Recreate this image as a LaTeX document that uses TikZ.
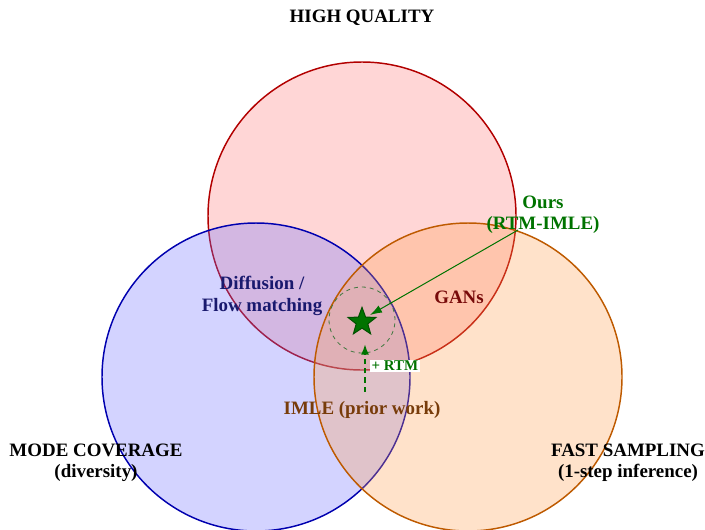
\documentclass[tikz,border=0pt]{standalone}
\usepackage{fontspec}
\setmainfont{Liberation Serif}
\usetikzlibrary{arrows.meta,shapes.geometric}

\definecolor{qualline}{RGB}{178,0,0}
\definecolor{qualfill}{RGB}{255,120,120}
\definecolor{modeline}{RGB}{0,0,175}
\definecolor{modefill}{RGB}{110,110,255}
\definecolor{fastline}{RGB}{190,90,0}
\definecolor{fastfill}{RGB}{255,160,80}
\definecolor{oursgreen}{RGB}{0,115,0}
\definecolor{imlebrown}{RGB}{120,60,10}
\definecolor{gansred}{RGB}{120,10,10}
\definecolor{diffnavy}{RGB}{25,25,110}

\tikzset{every picture/.style={line width=0.75pt}}
\tikzset{
  setcircle/.style={line width=1.1pt, fill opacity=0.3},
  bigtitle/.style={font=\bfseries\fontsize{14.2}{16}\selectfont, align=center, inner sep=0.75pt},
  region/.style={font=\bfseries\fontsize{14.2}{16}\selectfont, align=center, inner sep=0.75pt},
}

\begin{document}
\begin{tikzpicture}[x=0.75pt,y=0.75pt,yscale=-1,xscale=1]
\useasboundingbox (0,0) rectangle (705,529);

%Set circles
\draw [setcircle, draw=qualline, fill=qualfill] (362,216) circle [radius=115.5pt];
\draw [setcircle, draw=modeline, fill=modefill] (256,377) circle [radius=115.5pt];
\draw [setcircle, draw=fastline, fill=fastfill] (468,377) circle [radius=115.5pt];

%Titles
\node [bigtitle] (quality) at (362,18) {HIGH QUALITY};
\node [bigtitle] (coverage) at (96,463) {MODE COVERAGE\\(diversity)};
\node [bigtitle] (sampling) at (628,463) {FAST SAMPLING\\(1-step inference)};

%Region labels
\node [region, text=diffnavy] (diffusion) at (262,296) {Diffusion /\\Flow matching};
\node [region, text=gansred] (gans) at (459,297) {GANs};
\node [region, text=imlebrown] (imle) at (362,410) {IMLE (prior work)};
\node [region, text=oursgreen] (ours) at (543,215) {Ours\\(RTM-IMLE)};

%Star and halo
\node [draw=oursgreen!50!gray, dashed, line width=0.6pt, circle, minimum size=49.5pt, inner sep=0pt] (halo) at (362,320) {};
\node [star, star points=5, star point ratio=2.4, minimum size=22pt, inner sep=0pt, draw=oursgreen!70!black, fill=oursgreen] (best) at (362,322) {};

%Arrows
\coordinate (oursfoot) at (518,230);
\draw [oursgreen, -{Latex[length=9pt,width=6pt]}] (oursfoot) -- (370,315);
\coordinate (rtmfoot) at (365,392);
\draw [oursgreen, dash pattern={on 4pt off 3pt}, line width=1.3pt, -{Latex[length=8pt,width=6pt]}] (rtmfoot) -- (365,344);
\node [fill=white, text=oursgreen, inner sep=1pt, font=\bfseries\fontsize{11.2}{12}\selectfont] (rtm) at (395,366) {+ RTM};

\end{tikzpicture}
\end{document}
